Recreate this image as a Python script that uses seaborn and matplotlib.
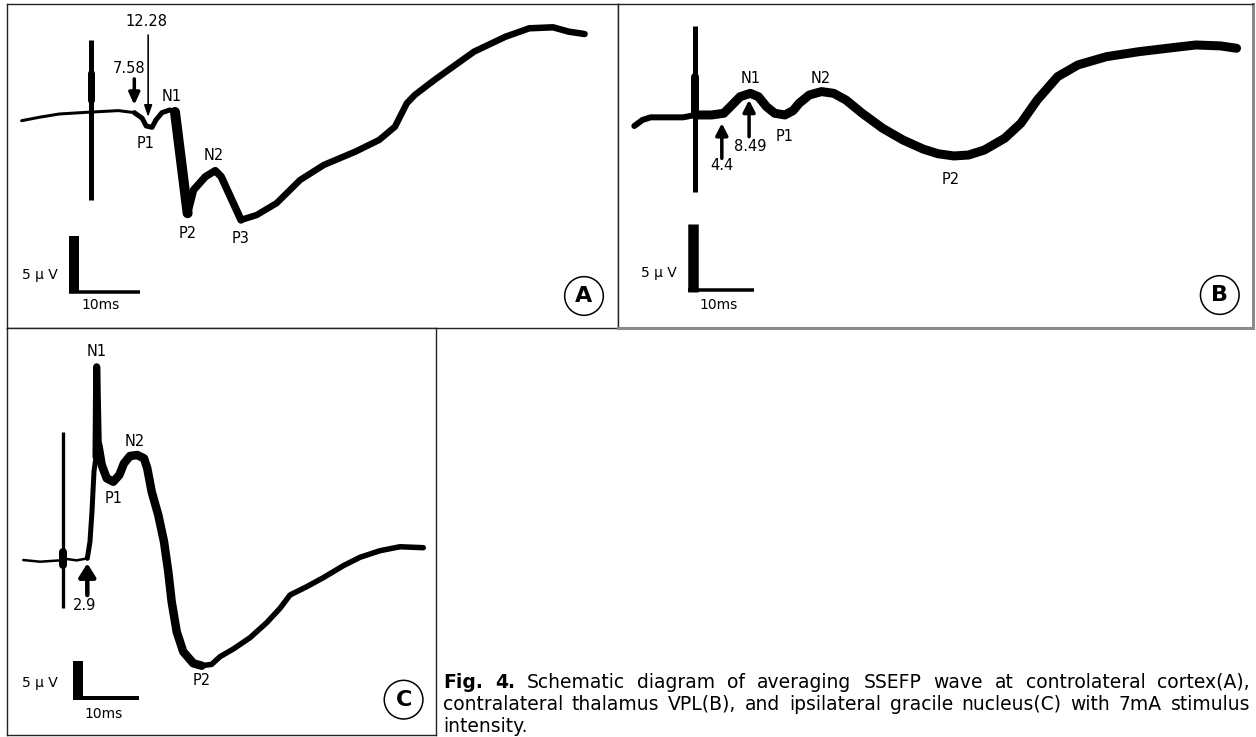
import matplotlib
matplotlib.use("Agg")
import matplotlib.pyplot as plt
import matplotlib.transforms as mtransforms
import seaborn as sns

sns.set_theme(style="white")
plt.rcParams['font.family'] = ['DejaVu Sans']
plt.rcParams['text.color'] = 'black'

# ------------------------------------------------------------------ data
# time in ms after the stimulus artifact, amplitude in uV (upward = positive)
# Panel A: contralateral cortex
A_TIME = [-9.77, -7.25, -4.46, -0.58, 3.87, 6.10, 7.21, 7.77, 8.61, 9.15, 10.0, 11.11,
          11.83, 13.61, 14.45, 16.11, 17.51, 18.34, 21.13, 23.35, 26.13, 29.46, 32.80,
          37.25, 40.59, 42.82, 44.49, 45.61, 48.38, 53.94, 58.39, 61.73, 65.07, 67.30, 69.52]
A_AMP = [-0.78, -0.47, -0.18, -0.03, 0.12, -0.06, -0.56, -1.25, -1.37, -0.71, -0.06, 0.18,
         0.0, -9.04, -6.96, -5.78, -5.24, -5.78, -9.64, -9.20, -8.15, -6.07, -4.73,
         -3.54, -2.50, -1.31, 0.78, 1.52, 2.86, 5.38, 6.72, 7.47, 7.56, 7.17, 6.96]
A_ARTIFACT = [0.0, -7.86, 6.43]          # time, lower end, upper end
A_PEAKS = ["N1", "P1", "N2", "P2", "P3"]
A_LATENCIES = ["7.58", "12.28"]

# Panel B: contralateral thalamus VPL
B_TIME = [-9.20, -7.98, -6.74, -1.84, 0.0, 2.46, 4.30, 5.54, 6.76, 8.30, 9.52, 10.75,
          11.98, 13.51, 14.74, 15.66, 17.19, 19.03, 20.87, 22.72, 25.17, 28.25, 31.31,
          34.39, 36.60, 38.99, 41.20, 43.59, 46.67, 49.11, 51.57, 54.65, 57.71, 62.01,
          66.92, 71.22, 75.51, 79.20, 81.64]
B_AMP = [-0.84, -0.38, -0.18, -0.18, 0.0, 0.0, 0.13, 0.76, 1.39, 1.65, 1.39, 0.63,
         0.13, 0.0, 0.33, 0.89, 1.52, 1.78, 1.65, 1.14, 0.13, -1.01, -1.90,
         -2.60, -2.95, -3.12, -3.05, -2.67, -1.77, -0.63, 1.14, 2.92, 3.81, 4.44,
         4.82, 5.08, 5.33, 5.26, 5.08]
B_ARTIFACT = [0.0, -5.84, 6.78]
B_PEAKS = ["N1", "N2", "P1", "P2"]
B_LATENCIES = ["4.4", "8.49"]

# Panel C: ipsilateral gracile nucleus
C_TIME = [-6.0, -3.49, -0.49, 0.51, 2.01, 3.60, 4.00, 4.30, 4.60, 4.90, 5.01, 5.25,
          5.76, 6.51, 7.50, 8.40, 9.10, 10.0, 11.09, 12.10, 12.59, 13.25, 14.24,
          15.10, 15.74, 16.25, 17.00, 17.99, 19.49, 20.75, 22.25, 23.49, 25.49,
          27.99, 30.49, 32.49, 33.99, 36.49, 38.98, 41.98, 44.48, 47.48, 50.48, 53.97]
C_AMP = [0.0, -0.23, -0.05, 0.14, -0.05, 0.23, 2.50, 6.59, 12.05, 14.09, 26.37, 15.69,
         12.96, 11.15, 10.68, 11.60, 13.19, 14.19, 14.32, 13.87, 12.51, 9.32, 6.14,
         2.50, -1.60, -5.69, -9.78, -12.51, -14.09, -14.42, -14.23, -13.19, -12.14,
         -10.60, -8.55, -6.59, -4.77, -3.64, -2.41, -0.78, 0.37, 1.27, 1.81, 1.68]
C_ARTIFACT = [0.0, -6.59, 17.5]
C_PEAKS = ["N1", "N2", "P1", "P2"]
C_LATENCIES = ["2.9"]

SCALE_MS = 10       # horizontal calibration bar
SCALE_UV = 5        # vertical calibration bar
SCALE_LABELS = ["5 μ V", "10ms"]
PANEL_LETTERS = ["A", "B", "C"]

CAPTION = [
    [("Fig.", True), ("4.", True), ("Schematic", False), ("diagram", False), ("of", False),
     ("averaging", False), ("SSEFP", False), ("wave", False), ("at", False),
     ("controlateral", False), ("cortex(A),", False)],
    [("contralateral", False), ("thalamus", False), ("VPL(B),", False), ("and", False),
     ("ipsilateral", False), ("gracile", False), ("nucleus(C)", False), ("with", False),
     ("7mA", False), ("stimulus", False)],
    [("intensity.", False)],
]

# ------------------------------------------------------------------ layout
W, H = 1256, 737
PX2PT = 72 / 100.0

fig = plt.figure(figsize=(W / 100, H / 100), dpi=100)
fig.patch.set_facecolor("white")


def make_axes(box, xlim, ylim):
    x0, y0, x1, y1 = box
    ax = fig.add_axes([x0 / W, 1 - y1 / H, (x1 - x0) / W, (y1 - y0) / H])
    ax.set_xlim(*xlim)
    ax.set_ylim(*ylim)
    ax.set_xticks([])
    ax.set_yticks([])
    ax.set_facecolor("white")
    for s in ax.spines.values():
        s.set_visible(True)
        s.set_color("#222222")
        s.set_linewidth(1.0)
    return ax


axA = make_axes((7, 4, 618, 328), (-11.83, 74.23), (-19.29, 9.64))
axB = make_axes((618, 4, 1253, 328), (-11.66, 84.12), (-16.22, 8.45))
axC = make_axes((7, 328, 436, 735), (-8.44, 55.88), (-23.87, 31.65))
for side in ("right", "bottom"):
    axB.spines[side].set_color("#8a8a8a")
    axB.spines[side].set_linewidth(2.2)

LABEL_FS = 10.5


def trace(ax, t, v, segments):
    for i0, i1, wpx in segments:
        sns.lineplot(x=t[i0:i1 + 1], y=v[i0:i1 + 1], ax=ax, color="black",
                     linewidth=wpx * PX2PT, sort=False, estimator=None,
                     solid_capstyle="round", solid_joinstyle="round")


def artifact(ax, art, wpx, blob, blob_wpx):
    t, lo, hi = art
    sns.lineplot(x=[t, t], y=[lo, hi], ax=ax, color="black", linewidth=wpx * PX2PT,
                 sort=False, estimator=None, solid_capstyle="butt")
    sns.lineplot(x=[t, t], y=list(blob), ax=ax, color="black", linewidth=blob_wpx * PX2PT,
                 sort=False, estimator=None, solid_capstyle="round")


def scalebar(ax, t0, v0, vw_px, hw_px, lab_pos):
    sns.lineplot(x=[t0, t0 + SCALE_MS], y=[v0, v0], ax=ax, color="black",
                 linewidth=hw_px * PX2PT, sort=False, estimator=None, solid_capstyle="butt")
    tr = mtransforms.offset_copy(ax.transData, fig=fig, x=vw_px / 2 * PX2PT, y=0, units="points")
    ax.plot([t0, t0], [v0 - hw_px / 2 / 12, v0 + SCALE_UV], color="black",
            linewidth=vw_px * PX2PT, solid_capstyle="butt", transform=tr)
    (xv, yv), (xm, ym) = lab_pos
    ax.text(xv, yv, SCALE_LABELS[0], ha="center", va="center", fontsize=LABEL_FS - 0.5)
    ax.text(xm, ym, SCALE_LABELS[1], ha="center", va="center", fontsize=LABEL_FS - 0.5)


def labels(ax, names, pos):
    for n, (x, y) in zip(names, pos):
        ax.text(x, y, n, ha="center", va="center", fontsize=LABEL_FS)


def arrow(ax, text, tpos, tail, tip, lw_px, hl, hw):
    ax.annotate("", xy=tip, xytext=tail,
                arrowprops=dict(arrowstyle=f"-|>,head_length={hl},head_width={hw}",
                                mutation_scale=1, lw=lw_px * PX2PT, color="black",
                                shrinkA=0, shrinkB=0))
    ax.text(tpos[0], tpos[1], text, ha="center", va="center", fontsize=LABEL_FS)


def letter(ax, let, pos):
    ax.text(pos[0], pos[1], let, ha="center", va="center", fontsize=16, fontweight="bold",
            color="black",
            bbox=dict(boxstyle="circle,pad=0.42", fc="white", ec="black", lw=1.1))


# ---- Panel A
artifact(axA, A_ARTIFACT, 5, (1.07, 3.48), 7)
trace(axA, A_TIME, A_AMP, [(0, 5, 3), (5, 12, 5), (12, 13, 10), (13, 18, 7.5), (18, 34, 6.5)])
labels(axA, A_PEAKS, [(11.38, 1.37), (7.66, -2.86), (17.23, -3.93), (13.61, -10.83), (21.01, -11.28)])
arrow(axA, A_LATENCIES[0], (5.43, 3.9), (6.10, 2.95), (6.10, 0.63), 3.5, 7, 3.2)
arrow(axA, A_LATENCIES[1], (7.77, 8.06), (8.05, 6.88), (8.05, -0.45), 1.6, 7, 2.4)
scalebar(axA, -3.10, -16.04, 10, 3.5, ((-7.25, -14.55), (1.37, -17.23)))
letter(axA, PANEL_LETTERS[0], (69.44, -16.43))

# ---- Panel B
artifact(axB, B_ARTIFACT, 5, (0.15, 2.9), 8)
trace(axB, B_TIME, B_AMP, [(0, 4, 6), (4, 38, 9)])
labels(axB, B_PEAKS, [(8.30, 2.79), (18.85, 2.79), (13.51, -1.65), (38.55, -4.90)])
arrow(axB, B_LATENCIES[0], (4.0, -3.81), (4.0, -3.30), (4.0, -0.63), 3.5, 7, 3.6)
arrow(axB, B_LATENCIES[1], (8.30, -2.41), (8.11, -1.65), (8.11, 1.14), 3.5, 7, 3.6)
scalebar(axB, -1.10, -13.33, 10.5, 3.5, ((-5.52, -12.06), (3.57, -14.47)))
letter(axB, PANEL_LETTERS[1], (79.11, -13.71))

# ---- Panel C
artifact(axC, C_ARTIFACT, 3.3, (-0.7, 1.1), 8)
trace(axC, C_TIME, C_AMP, [(0, 5, 2.5), (5, 9, 5), (9, 11, 7), (11, 29, 8.5), (29, 43, 5.5)])
labels(axC, C_PEAKS, [(5.01, 28.42), (10.75, 16.14), (7.50, 8.42), (20.75, -16.37)])
arrow(axC, C_LATENCIES[0], (3.25, -6.14), (3.60, -4.77), (3.60, -0.45), 4.5, 8, 5)
scalebar(axC, 1.41, -18.78, 10, 4, ((-3.49, -16.82), (6.0, -21.05)))
letter(axC, PANEL_LETTERS[2], (51.02, -19.05))

# ---- Caption (justified)
fig.canvas.draw()
renderer = fig.canvas.get_renderer()
CAP_FS = 13.5
x_left, x_right = 443, 1250
baselines = [688, 710, 732]
for li, (words, base) in enumerate(zip(CAPTION, baselines)):
    texts = [fig.text(0, 0, w, fontsize=CAP_FS, fontweight="bold" if b else "normal",
                      ha="left", va="baseline", color="black") for w, b in words]
    widths = [t.get_window_extent(renderer).width for t in texts]
    justify = li < len(CAPTION) - 1 and len(words) > 1
    gap = (x_right - x_left - sum(widths)) / (len(words) - 1) if justify else 5
    x = x_left
    for t, wd in zip(texts, widths):
        t.set_position((x / W, 1 - base / H))
        x += wd + gap

fig.savefig("out.png", dpi=100, facecolor="white")
